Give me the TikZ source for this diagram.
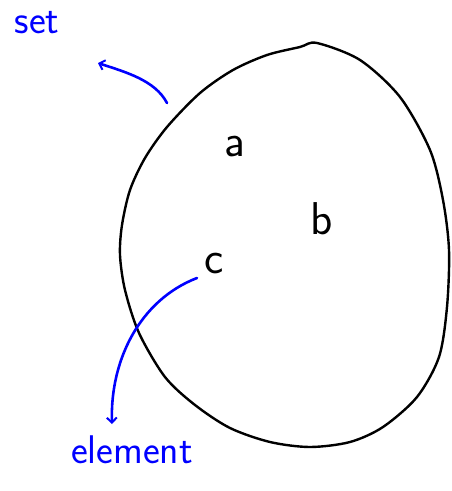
\documentclass[tikz,border=0pt]{standalone}
\usepackage{fontspec}
\usetikzlibrary{arrows.meta}
\begin{document}
\begin{tikzpicture}[x=1pt,y=-1pt,
 member/.style={font=\sffamily\fontsize{46}{48}\selectfont,inner sep=1pt},
 note/.style={font=\sffamily\fontsize{40}{42}\selectfont,text=blue,inner sep=1pt},
 pointer/.style={draw=blue,line width=2.6pt,line cap=round,
   -{Straight Barb[length=5pt,width=10pt,line width=2pt]}}]
 \useasboundingbox (0,0) rectangle (452,491);
 % the set itself
 \draw[line width=2.4pt,line join=round] plot[smooth cycle,tension=0.5] coordinates
  {(317,43) (360,60) (400,97) (430,150) (443,200) (449,250) (447,307)
   (439,357) (417,397) (383,427) (350,442) (310,447) (270,442) (230,428)
   (195,405) (165,377) (139,333) (125,290) (120,255) (122,225) (130,190)
   (145,158) (167,127) (200,93) (233,70) (267,55) (300,47)};
 \node[member] (a) at (235,147) {a};
 \node[member] (b) at (322,219) {b};
 \node[member] (c) at (214,264) {c};
 \node[note] (set) at (37,23) {set};
 \node[note] (elem) at (132,450) {element};
 \coordinate (rim) at (167,103);
 \coordinate (settip) at (98,63);
 \coordinate (elemtip) at (112,424);
 \draw[pointer] (rim) .. controls (155,80) and (125,72) .. (settip);
 \draw[pointer] (197,278) .. controls (140,300) and (110,360) .. (elemtip);
\end{tikzpicture}
\end{document}
